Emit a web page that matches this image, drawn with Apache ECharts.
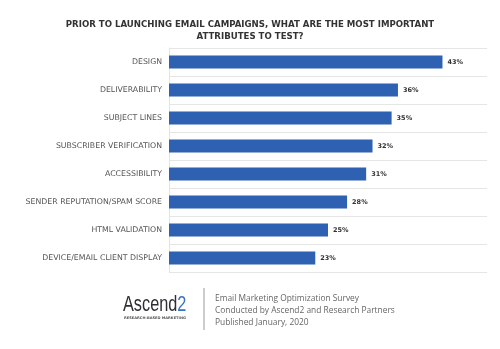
<!DOCTYPE html>
<html><head><meta charset="utf-8">
<script src="https://cdn.jsdelivr.net/npm/echarts@6/dist/echarts.min.js"></script>
<style>html,body{margin:0;padding:0;background:#fff}#c{width:500px;height:349px}</style>
</head><body><div id="c"></div>
<script>
const categories = ["DESIGN","DELIVERABILITY","SUBJECT LINES","SUBSCRIBER VERIFICATION","ACCESSIBILITY","SENDER REPUTATION/SPAM SCORE","HTML VALIDATION","DEVICE/EMAIL CLIENT DISPLAY"];
const values = [43,36,35,32,31,28,25,23];
const titleLines = ["PRIOR TO LAUNCHING EMAIL CAMPAIGNS, WHAT ARE THE MOST IMPORTANT","ATTRIBUTES TO TEST?"];
const footerLines = ["Email Marketing Optimization Survey","Conducted by Ascend2 and Research Partners","Published January, 2020"];

const chart = echarts.init(document.getElementById('c'), null, {renderer:'canvas'});
chart.setOption({
  backgroundColor:'#fff',
  animation:false,
  title:{
    text: titleLines.join('\n'),
    left:'center', top:14,
    textStyle:{fontFamily:'DejaVu Sans', fontWeight:'bold', fontSize:8.6, color:'#333', lineHeight:12}
  },
  grid:{left:169, right:13, top:48, bottom:77},
  xAxis:{type:'value', min:0, max:50, show:false},
  yAxis:{
    type:'category', data:categories, inverse:true,
    axisLine:{show:true, lineStyle:{color:'#e3e3e3'}},
    axisTick:{show:false},
    splitLine:{show:true, lineStyle:{color:'#e6e6e6'}},
    axisLabel:{fontFamily:'DejaVu Sans', fontSize:7.8, color:'#555', margin:7}
  },
  series:[{
    type:'bar', data:values, barWidth:13,
    itemStyle:{color:'#2f61b2'},
    label:{show:true, position:'right', distance:5, formatter:'{c}%',
      fontFamily:'DejaVu Sans', fontWeight:'bold', fontSize:6.5, color:'#333'}
  }],
  graphic:[
    {type:'text', x:123, y:294, scaleX:0.74, style:{
      text:'{a|Ascend}{b|2}',
      rich:{
        a:{fontFamily:'Liberation Sans', fontSize:22, fill:'#2f2f33'},
        b:{fontFamily:'Liberation Sans', fontSize:22, fill:'#3a72c0'}
      }}},
    {type:'text', left:124, top:316, style:{text:'RESEARCH-BASED MARKETING', font:'bold 3.6px "DejaVu Sans"', fill:'#555'}},
    {type:'line', shape:{x1:204, y1:288, x2:204, y2:330}, style:{stroke:'#999', lineWidth:1}},
    {type:'text', left:215, top:293, style:{text:footerLines.join('\n'), font:'8.4px "Open Sans"', fill:'#666', lineHeight:12}}
  ]
});
</script></body></html>
